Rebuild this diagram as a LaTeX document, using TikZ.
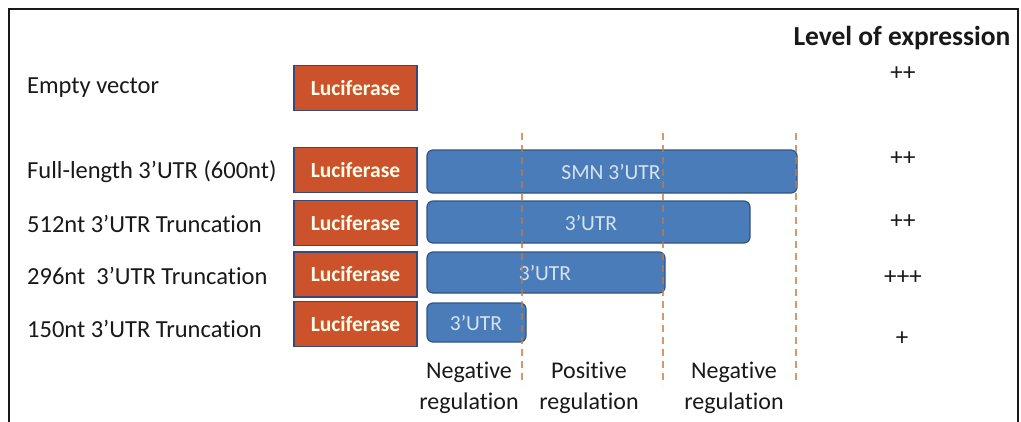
\documentclass[tikz,border=0pt]{standalone}
\usepackage{fontspec}
\setmainfont{Carlito}[Ligatures={NoCommon}]
\begin{document}
\definecolor{lucfill}{RGB}{204,82,44}
\definecolor{lucedge}{RGB}{58,72,120}
\definecolor{utrfill}{RGB}{74,124,186}
\definecolor{utredge}{RGB}{50,84,130}
\definecolor{utrtext}{RGB}{214,226,240}
\definecolor{cuttone}{RGB}{196,120,60}
\definecolor{ink}{RGB}{25,25,25}
\tikzset{
  lucbox/.style={draw=lucedge, line width=1.6pt, fill=lucfill, minimum width=123pt, minimum height=45pt,
    inner sep=0pt, text=white!92!yellow, font=\fontsize{21.5}{23}\selectfont\bfseries},
  utrbox/.style={draw=utredge, line width=1.2pt, fill=utrfill, rounded corners=6pt},
  utrlabel/.style={text=utrtext, font=\fontsize{21.5}{23}\selectfont},
  rowlabel/.style={anchor=west, inner sep=0pt, text=ink, font=\fontsize{24.5}{27}\selectfont},
  level/.style={text=ink, font=\fontsize{25}{27}\selectfont},
  region/.style={text=ink, align=center, font=\fontsize{24}{31}\selectfont},
  cutline/.style={draw=cuttone, line width=1.3pt, dash pattern=on 7pt off 5pt, opacity=0.75}
}
\begin{tikzpicture}[x=1pt, y=-1pt]
\useasboundingbox (0,0) rectangle (1021,421);
\fill[white] (0,0) rectangle (1021,421);
% frame
\draw[line width=1.8pt, ink] (9,425) -- (9,9) -- (1018,9) -- (1018,425);

% heading
\node[level, font=\fontsize{27.5}{30}\selectfont\bfseries] (head) at (902,38) {Level of expression};

% construct names
\node[rowlabel] (l0) at (27,88) {Empty vector};
\node[rowlabel] (l1) at (27,172) {Full-length 3’UTR (600nt)};
\node[rowlabel] (l2) at (27,224) {512nt 3’UTR Truncation};
\node[rowlabel] (l3) at (27,276) {296nt\ \ 3’UTR Truncation};
\node[rowlabel] (l4) at (27,329) {150nt 3’UTR Truncation};

% luciferase reporter boxes
\node[lucbox] (c0) at (355.5,88) {Luciferase};
\node[lucbox] (c1) at (355.5,170) {Luciferase};
\node[lucbox] (c2) at (355.5,223) {Luciferase};
\node[lucbox] (c3) at (355.5,274.5) {Luciferase};
\node[lucbox] (c4) at (355.5,324) {Luciferase};

% 3'UTR segments
\draw[utrbox] (427,150) rectangle (797,193);
\draw[utrbox] (427,201) rectangle (750,243);
\draw[utrbox] (427,252) rectangle (665,293);
\draw[utrbox] (427,303) rectangle (526,342);
\node[utrlabel] (u1) at (611,172) {SMN 3’UTR};
\node[utrlabel] (u2) at (591,223) {3’UTR};
\node[utrlabel] (u3) at (545,273) {3’UTR};
\node[utrlabel] (u4) at (476,323) {3’UTR};

% region boundaries
\coordinate (a1) at (522,133); \coordinate (b1) at (522,385);
\coordinate (a2) at (663,133); \coordinate (b2) at (663,385);
\coordinate (a3) at (796,133); \coordinate (b3) at (796,385);
\draw[cutline] (a1) -- (b1);
\draw[cutline] (a2) -- (b2);
\draw[cutline] (a3) -- (b3);

% region names
\node[region] (r1) at (469,388) {Negative\\regulation};
\node[region] (r2) at (589,388) {Positive\\regulation};
\node[region] (r3) at (734,388) {Negative\\regulation};

% expression levels
\node[level] (e0) at (903,74) {++};
\node[level] (e1) at (903,159) {++};
\node[level] (e2) at (903,222) {++};
\node[level] (e3) at (903,278) {+++};
\node[level] (e4) at (902,339) {+};
\end{tikzpicture}
\end{document}
